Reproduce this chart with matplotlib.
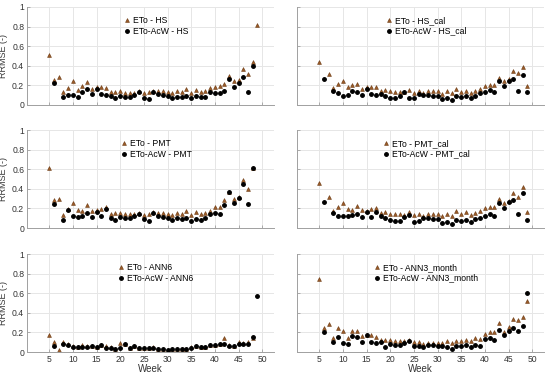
import numpy as np
import matplotlib
matplotlib.use('Agg')
import matplotlib.pyplot as plt
from matplotlib.ticker import FuncFormatter

plt.rcParams['font.family'] = ['Liberation Sans', 'DejaVu Sans']

# weeks 5..49
weeks = np.arange(5, 50)
nan = np.nan

# ETo (triangles) and ETo-AcW (circles) per model
hs_eto = [0.51, 0.26, 0.29, 0.13, 0.17, 0.24, 0.155, 0.19, 0.23, 0.16, 0.18, 0.185, 0.175, 0.13, 0.135,
          0.145, 0.125, 0.125, 0.12, 0.145, 0.125, 0.135, 0.145, 0.14, 0.14, 0.13, 0.125, 0.14, 0.13, 0.165,
          0.125, 0.15, 0.13, 0.14, 0.17, 0.18, 0.19, 0.21, 0.30, 0.24, 0.26, 0.37, 0.32, 0.44, 0.82]
hs_acw = [nan, 0.225, nan, 0.08, 0.10, 0.10, 0.085, 0.13, 0.16, 0.11, 0.165, 0.11, 0.10, 0.09, 0.075,
          0.095, 0.08, 0.08, 0.105, 0.13, 0.07, 0.065, 0.135, 0.11, 0.10, 0.095, 0.075, 0.085, 0.08, 0.09,
          0.075, 0.09, 0.085, 0.085, 0.135, 0.12, 0.12, 0.145, 0.27, 0.18, 0.22, 0.29, 0.13, 0.40, nan]

hscal_eto = [0.44, nan, 0.32, 0.17, 0.21, 0.24, 0.18, 0.20, 0.21, 0.16, 0.18, 0.18, 0.18, 0.14, 0.15,
             0.14, 0.13, 0.13, 0.13, 0.15, 0.12, 0.14, 0.12, 0.14, 0.14, 0.14, 0.11, 0.14, 0.12, 0.16,
             0.13, 0.14, 0.12, 0.14, 0.16, 0.19, 0.20, 0.20, 0.28, 0.25, 0.27, 0.35, 0.33, 0.39, 0.19]
hscal_acw = [nan, 0.27, nan, 0.14, 0.12, 0.095, 0.10, 0.14, 0.13, 0.10, 0.16, 0.11, 0.10, 0.11, 0.09,
             0.075, 0.075, 0.09, 0.13, 0.07, 0.07, 0.11, 0.10, 0.10, 0.09, 0.09, 0.06, 0.075, 0.05, 0.09,
             0.08, 0.09, 0.07, 0.09, 0.12, 0.13, 0.15, 0.13, 0.24, 0.19, 0.24, 0.27, 0.14, 0.31, 0.13]

pmt_eto = [0.61, 0.29, 0.30, 0.13, 0.19, 0.26, 0.18, 0.17, 0.23, 0.17, 0.18, 0.19, 0.21, 0.14, 0.15,
           0.15, 0.14, 0.14, 0.14, 0.15, 0.13, 0.14, 0.16, 0.15, 0.15, 0.14, 0.13, 0.15, 0.14, 0.17,
           0.13, 0.16, 0.14, 0.15, 0.17, 0.21, 0.21, 0.29, 0.37, 0.30, 0.32, 0.49, 0.40, 0.61, nan]
pmt_acw = [nan, 0.24, nan, 0.08, 0.18, 0.12, 0.11, 0.12, 0.15, 0.11, 0.16, 0.12, 0.19, 0.10, 0.08,
           0.11, 0.10, 0.10, 0.12, 0.14, 0.09, 0.07, 0.15, 0.12, 0.11, 0.10, 0.08, 0.10, 0.09, 0.10,
           0.07, 0.09, 0.08, 0.10, 0.14, 0.15, 0.14, 0.23, 0.37, 0.26, 0.31, 0.45, 0.25, 0.61, nan]

pmtcal_eto = [0.46, nan, 0.32, 0.17, 0.21, 0.26, 0.19, 0.18, 0.22, 0.18, 0.17, 0.19, 0.20, 0.15, 0.16,
              0.14, 0.14, 0.14, 0.13, 0.16, 0.13, 0.14, 0.12, 0.14, 0.14, 0.14, 0.12, 0.14, 0.12, 0.17,
              0.14, 0.16, 0.13, 0.15, 0.17, 0.20, 0.21, 0.21, 0.30, 0.26, 0.28, 0.36, 0.32, 0.42, 0.16]
pmtcal_acw = [nan, 0.27, nan, 0.15, 0.12, 0.12, 0.12, 0.13, 0.14, 0.11, 0.16, 0.11, 0.16, 0.12, 0.10,
              0.08, 0.07, 0.07, 0.11, 0.13, 0.06, 0.07, 0.10, 0.10, 0.09, 0.09, 0.05, 0.06, 0.04, 0.08,
              0.07, 0.08, 0.06, 0.09, 0.10, 0.12, 0.14, 0.12, 0.26, 0.20, 0.27, 0.29, 0.14, 0.36, 0.08]

ann6_eto = [0.17, 0.10, 0.02, 0.10, 0.08, 0.06, 0.05, 0.07, 0.06, 0.06, 0.05, 0.07, 0.06, 0.05, 0.03,
            0.09, 0.08, 0.04, 0.06, 0.04, 0.04, 0.04, 0.05, 0.03, 0.03, 0.02, 0.03, 0.03, 0.03, 0.03,
            0.05, 0.06, 0.05, 0.05, 0.07, 0.07, 0.08, 0.14, 0.07, 0.06, 0.10, 0.09, 0.10, 0.14, nan]
ann6_acw = [nan, 0.06, nan, 0.08, 0.07, 0.05, 0.05, 0.05, 0.05, 0.06, 0.05, 0.07, 0.04, 0.04, 0.03,
            0.04, 0.08, 0.04, 0.06, 0.04, 0.04, 0.04, 0.04, 0.03, 0.03, 0.02, 0.03, 0.03, 0.03, 0.03,
            0.04, 0.06, 0.05, 0.05, 0.07, 0.07, 0.08, 0.08, 0.06, 0.06, 0.08, 0.08, 0.08, 0.15, 0.57]

ann3_eto = [0.75, 0.25, 0.29, 0.14, 0.25, 0.21, 0.14, 0.21, 0.21, 0.16, 0.17, 0.17, 0.15, 0.12, 0.12,
            0.12, 0.11, 0.11, 0.11, 0.12, 0.10, 0.10, 0.08, 0.09, 0.09, 0.09, 0.09, 0.11, 0.09, 0.11,
            0.11, 0.12, 0.11, 0.14, 0.13, 0.18, 0.20, 0.20, 0.30, 0.20, 0.26, 0.34, 0.33, 0.36, 0.52]
ann3_acw = [nan, 0.20, nan, 0.10, 0.15, 0.09, 0.08, 0.16, 0.15, 0.10, 0.17, 0.10, 0.09, 0.10, 0.05,
            0.08, 0.07, 0.07, 0.09, 0.11, 0.06, 0.06, 0.05, 0.07, 0.07, 0.06, 0.06, 0.05, 0.03, 0.06,
            0.06, 0.07, 0.05, 0.07, 0.06, 0.13, 0.14, 0.12, 0.22, 0.17, 0.21, 0.25, 0.21, 0.27, 0.60]

models = ['HS', 'HS_cal', 'PMT', 'PMT_cal', 'ANN6', 'ANN3_month']
eto_data = [hs_eto, hscal_eto, pmt_eto, pmtcal_eto, ann6_eto, ann3_eto]
acw_data = [hs_acw, hscal_acw, pmt_acw, pmtcal_acw, ann6_acw, ann3_acw]

fig = plt.figure(figsize=(5.5, 3.75), dpi=100)

lefts = [27 / 550, 297 / 550]
width = 247 / 550
bottoms = [1 - 105 / 375, 1 - 228 / 375, 1 - 352 / 375]
height = 98 / 375

fmt = FuncFormatter(lambda v, p: '%g' % round(v, 1))
txt = '#333333'

for i, name in enumerate(models):
    r, c = divmod(i, 2)
    ax = fig.add_axes([lefts[c], bottoms[r], width, height])
    ax.plot(weeks, eto_data[i], linestyle='none', marker='^', markersize=2.8,
            color='#9a5a26', markeredgecolor='#6b3a14', markeredgewidth=0.4,
            label='ETo - ' + name)
    ax.plot(weeks, acw_data[i], linestyle='none', marker='o', markersize=2.5,
            color='black', label='ETo-AcW - ' + name)
    ax.set_xlim(0.3, 52.5)
    ax.set_ylim(0, 1)
    ax.set_xticks(np.arange(5, 51, 5))
    ax.set_yticks(np.arange(0, 1.01, 0.2))
    ax.yaxis.set_major_formatter(fmt)
    ax.grid(True, color='#e6e6e6', linewidth=0.7)
    ax.set_axisbelow(True)
    for s in ['top', 'right']:
        ax.spines[s].set_visible(False)
    for s in ['left', 'bottom']:
        ax.spines[s].set_color('#a0a0a0')
        ax.spines[s].set_linewidth(0.7)
    ax.tick_params(direction='in', length=2, width=0.6, color='#a0a0a0',
                   labelsize=6.2, labelcolor=txt, pad=2)
    if c == 0:
        ax.set_ylabel('RRMSE (-)', fontsize=6.5, color=txt)
        ax.yaxis.set_label_coords(-0.078, 0.5)
    else:
        ax.tick_params(labelleft=False)
    if r == 2:
        ax.set_xlabel('Week', fontsize=7, color=txt, labelpad=0)
    else:
        ax.tick_params(labelbottom=False)
    ax.legend(loc='upper center', bbox_to_anchor=(0.52, 0.97), frameon=False,
              fontsize=6.2, handletextpad=0.2, borderpad=0.2, labelspacing=0.2,
              handlelength=1.0, markerscale=1.0)

plt.savefig('out.png', dpi=100)
